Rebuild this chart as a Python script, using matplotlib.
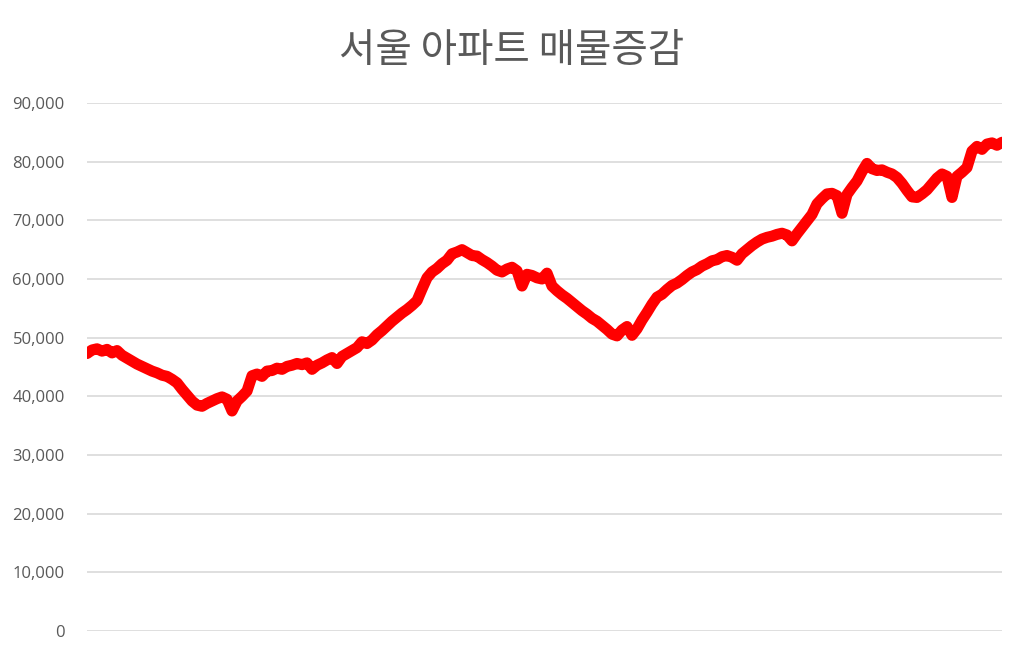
import matplotlib
matplotlib.use("Agg")
import matplotlib.pyplot as plt
from matplotlib.ticker import FuncFormatter

plt.rcParams['font.family'] = ['Noto Sans CJK KR', 'DejaVu Sans']

title = "서울 아파트 매물증감"

listings = [
    47300, 47900, 48100, 47700, 48000, 47400, 47800, 47000, 46500, 46000,
    45500, 45100, 44700, 44300, 44000, 43600, 43400, 42900, 42300, 41200,
    40200, 39200, 38500, 38300, 38800, 39200, 39600, 39900, 39500, 37500,
    39200, 40000, 40900, 43500, 43800, 43400, 44300, 44400, 44800, 44600,
    45100, 45300, 45600, 45400, 45700, 44600, 45300, 45700, 46200, 46600,
    45600, 46800, 47300, 47800, 48300, 49300, 49000, 49600, 50500, 51200,
    52000, 52800, 53500, 54200, 54800, 55500, 56300, 58300, 60200, 61200,
    61800, 62600, 63200, 64300, 64600, 65000, 64500, 64000, 63900, 63300,
    62800, 62200, 61500, 61200, 61700, 62000, 61400, 58800, 60800, 60600,
    60200, 60000, 61000, 58800, 58000, 57300, 56700, 56000, 55300, 54600,
    54000, 53300, 52800, 52100, 51400, 50600, 50300, 51300, 51900, 50400,
    51500, 53000, 54300, 55700, 56900, 57400, 58200, 58900, 59300, 59900,
    60600, 61200, 61600, 62200, 62600, 63100, 63300, 63800, 64000, 63700,
    63200, 64300, 65000, 65700, 66300, 66800, 67100, 67300, 67600, 67800,
    67500, 66500, 67700, 68800, 69900, 71000, 72800, 73700, 74500, 74600,
    74200, 71200, 74400, 75600, 76700, 78300, 79700, 78800, 78500, 78600,
    78200, 77900, 77300, 76300, 75100, 74000, 73900, 74500, 75200, 76200,
    77200, 77900, 77500, 73900, 77500, 78200, 79000, 81800, 82600, 82100,
    83000, 83200, 82800, 83300,
]

y_ticks = [0, 10000, 20000, 30000, 40000, 50000, 60000, 70000, 80000, 90000]

fig = plt.figure(figsize=(10.24, 6.54), dpi=100)
ax = fig.add_axes([0.085, 0.0352, 0.8935, 0.8073])

x = list(range(len(listings)))
ax.plot(x, listings, color='#ff0000', linewidth=8, solid_joinstyle='round',
        solid_capstyle='round', zorder=3)

ax.set_xlim(0, len(listings) - 1)
ax.set_ylim(0, 90000)
ax.set_yticks(y_ticks)
ax.yaxis.set_major_formatter(FuncFormatter(lambda v, p: f"{int(v):,}"))
ax.set_xticks([])
ax.grid(axis='y', color='#d9d9d9', linewidth=1.2, zorder=0)
for s in ax.spines.values():
    s.set_visible(False)
ax.tick_params(axis='y', length=0, pad=16, labelsize=12, labelcolor='#595959')
for lbl in ax.get_yticklabels():
    lbl.set_fontfamily(['Open Sans', 'DejaVu Sans'])

fig.text(0.5, 0.922, title, ha='center', va='center', fontsize=28.5, color='#595959')

fig.savefig('out.png', dpi=100)
